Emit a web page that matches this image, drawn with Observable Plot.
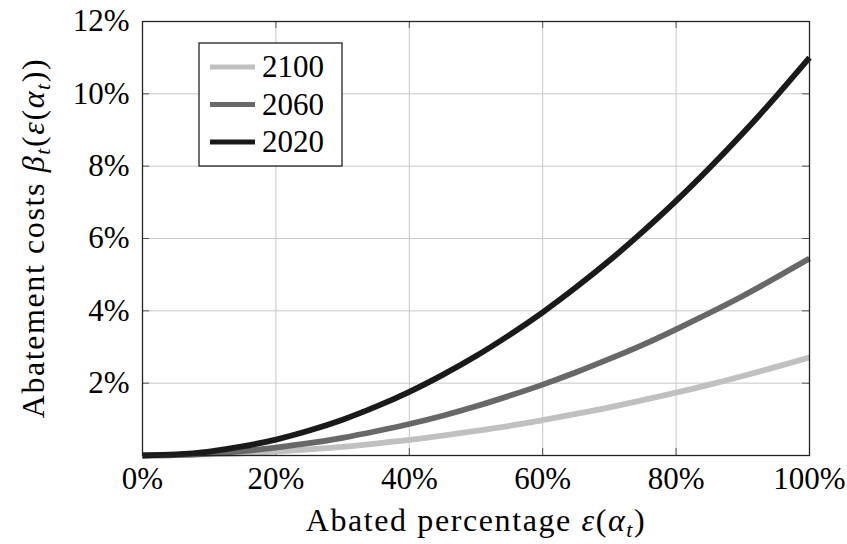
<!DOCTYPE html>
<html><head><meta charset="utf-8">
<script src="https://cdn.jsdelivr.net/npm/d3@7"></script>
<script src="https://cdn.jsdelivr.net/npm/@observablehq/plot@0.6"></script>
<style>body{margin:0;background:#fff}</style>
</head><body><div id="chart"></div>
<script>
const abated   = [0,5,10,15,20,25,30,35,40,45,50,55,60,65,70,75,80,85,90,95,100];
const cost2020 = [0,0.03,0.11,0.25,0.44,0.69,0.99,1.35,1.76,2.23,2.75,3.33,3.96,4.65,5.39,6.19,7.04,7.95,8.91,9.93,11.0];
const cost2060 = [0,0.01,0.05,0.12,0.22,0.34,0.49,0.67,0.87,1.10,1.36,1.65,1.96,2.30,2.67,3.06,3.49,3.94,4.41,4.92,5.45];
const cost2100 = [0,0.01,0.03,0.06,0.11,0.17,0.24,0.33,0.43,0.55,0.68,0.82,0.98,1.15,1.33,1.53,1.74,1.96,2.20,2.45,2.71];
const years  = ["2100","2060","2020"];
const colors = ["#c0c0c0","#686868","#1a1a1a"];
const xTicks = [0,20,40,60,80,100];
const yTicks = [2,4,6,8,10,12];

const seriesVals = {"2100": cost2100, "2060": cost2060, "2020": cost2020};
const rows = y => abated.map((a,i)=>({year:y, a, c: seriesVals[y][i]}));

const font = "Liberation Serif";
const FS = 31;
const W = 847, H = 544, ML = 142, MR = 38, MT = 21, MB = 89;
const innerW = W - ML - MR, innerH = H - MT - MB, TL = 7;
const plot = Plot.plot({
  width:W, height:H, marginLeft:ML, marginRight:MR, marginTop:MT, marginBottom:MB,
  style:{fontFamily:font, fontSize:FS+"px", color:"#000", background:"#fff"},
  x:{domain:[0,100]},
  y:{domain:[0,12]},
  marks:[
    Plot.gridX(xTicks,{stroke:"#c8c8c8", strokeOpacity:1, strokeWidth:1}),
    Plot.gridY(yTicks,{stroke:"#c8c8c8", strokeOpacity:1, strokeWidth:1}),
    Plot.tickX(xTicks,{x:d=>d, insetTop:innerH-TL, stroke:"#555", strokeWidth:1}),
    Plot.tickX(xTicks,{x:d=>d, insetBottom:innerH-TL, stroke:"#555", strokeWidth:1}),
    Plot.tickY(yTicks,{y:d=>d, insetRight:innerW-TL, stroke:"#555", strokeWidth:1}),
    Plot.tickY(yTicks,{y:d=>d, insetLeft:innerW-TL, stroke:"#555", strokeWidth:1}),
    Plot.axisX(xTicks,{anchor:"bottom", tickSize:0, tickPadding:11, tickFormat:d=>d+"%", label:null, fontSize:FS}),
    Plot.axisY(yTicks,{anchor:"left", tickSize:0, tickPadding:13, tickFormat:d=>d+"%", label:null, fontSize:FS}),
    ...years.map((y,i)=>Plot.line(rows(y),{x:"a", y:"c", stroke:colors[i], strokeWidth:5.8, curve:"natural", strokeLinecap:"butt"})),
    Plot.frame({stroke:"#222", strokeWidth:1.3})
  ]
});
document.getElementById("chart").appendChild(plot);

const svg = d3.select(plot);
function mathLabel(g, parts){
  parts.forEach(p=>{
    const t = g.append("tspan").text(p.t);
    if (p.i) t.attr("font-style","italic");
    if (p.sub) t.attr("font-size", 22).attr("baseline-shift","-25%");
  });
}
// x label
const xl = svg.append("text").attr("x",476).attr("y",531).attr("text-anchor","middle")
  .attr("font-family",font).attr("font-size",FS+1).attr("fill","#000").attr("letter-spacing","1.6px");
mathLabel(xl,[{t:"Abated percentage "},{t:"ε",i:1},{t:"("},{t:"α",i:1},{t:"t",i:1,sub:1},{t:")"}]);
// y label
const yl = svg.append("text").attr("transform","translate(44,238) rotate(-90)").attr("text-anchor","middle")
  .attr("font-family",font).attr("font-size",FS+1).attr("fill","#000").attr("letter-spacing","1.6px");
mathLabel(yl,[{t:"Abatement costs "},{t:"β",i:1},{t:"t",i:1,sub:1},{t:"("},{t:"ε",i:1},{t:"("},{t:"α",i:1},{t:"t",i:1,sub:1},{t:"))"}]);

// legend
const lg = svg.append("g");
lg.append("rect").attr("x",199).attr("y",43).attr("width",143).attr("height",123)
  .attr("fill","#fff").attr("stroke","#222").attr("stroke-width",1.3);
years.forEach((y,i)=>{
  const cy = 67 + i*37.5;
  lg.append("line").attr("x1",210).attr("x2",255).attr("y1",cy).attr("y2",cy)
    .attr("stroke",colors[i]).attr("stroke-width",5);
  lg.append("text").attr("x",262).attr("y",cy+10).attr("text-anchor","start")
    .attr("font-family",font).attr("font-size",FS).attr("fill","#000").text(y);
});
</script>
</body></html>
